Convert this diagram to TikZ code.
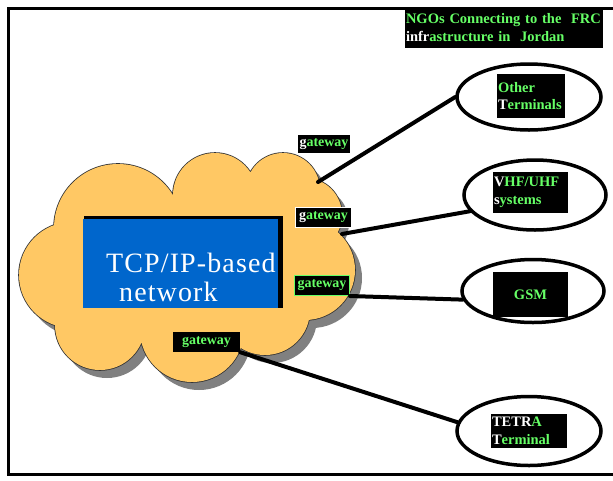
\documentclass[tikz,border=0pt]{standalone}
\usepackage{fontspec}
\setmainfont{Liberation Serif}
\usetikzlibrary{shapes.geometric}
\definecolor{gr}{RGB}{102,255,102}
\definecolor{cloudfill}{RGB}{255,200,100}
\definecolor{netblue}{RGB}{0,102,204}
\newcommand{\mypuffs}{(72,275) circle[radius=53pt] (118,228) circle[radius=64pt]
  (215,195) circle[radius=42pt] (283,190) circle[radius=37pt] (305,215) circle[radius=37pt]
  (305,270) circle[radius=50pt] (265,310) circle[radius=45pt] (192,330) circle[radius=52pt]
  (100,325) circle[radius=45pt]}
\newcommand{\myfiller}{(195,268) ellipse[x radius=100pt, y radius=75pt]}
\begin{document}
\begin{tikzpicture}[x=1pt,y=-1pt,
  gw/.style={fill=black, inner sep=0pt, font=\bfseries\fontsize{14}{15}\selectfont, text=gr},
  lbl/.style={fill=black, inner sep=1pt, font=\bfseries\fontsize{14.5}{17.5}\selectfont, text=gr, align=left},
  term/.style={ellipse, draw=black, line width=3.5pt, inner sep=0pt},
  link/.style={line width=4pt, line cap=round}]
\clip (0,0) rectangle (613,480);
\fill[white] (0,0) rectangle (613,480);
\draw[line width=3pt] (8,8) rectangle (640,474);
% cloud with shadow
\begin{scope}[shift={(7,8)}]
  \fill[gray] \mypuffs;
  \fill[gray] \myfiller;
\end{scope}
\draw[black!80, line width=1.6pt] \mypuffs;
\fill[cloudfill] \mypuffs;
\fill[cloudfill] \myfiller;
% blue network box
\fill[black] (84,216) rectangle (283,308);
\node[fill=netblue, minimum width=195pt, minimum height=89pt, inner sep=0pt] (net) at (180.5,263.5) {};
\node[anchor=base west, text=white, font=\fontsize{28}{30}\selectfont\addfontfeatures{LetterSpace=4}, inner sep=0pt] (t1) at (106,272) {TCP/IP-based};
\node[anchor=base west, text=white, font=\fontsize{28}{30}\selectfont\addfontfeatures{LetterSpace=4}, inner sep=0pt] (t2) at (119,301) {network};
% title
\node[lbl, minimum width=198pt, minimum height=40pt, text width=196pt, font=\bfseries\fontsize{14.5}{18}\selectfont] (title) at (504,27.5)
  {NGOs Connecting to the\ \ FRC\\{\color{white}infr}astructure in\ \ Jordan};
% gateways
\node[gw, minimum width=52pt, minimum height=18pt] (g1) at (324,144) {{\color{white}g}ateway};
\node[gw, draw=white, line width=1pt, minimum width=56pt, minimum height=20pt] (g2) at (323.5,217.5) {{\color{white}g}ateway};
\node[gw, draw=gr, line width=1pt, minimum width=55pt, minimum height=20pt] (g3) at (322,285.5) {gateway};
\node[gw, minimum width=67pt, minimum height=20pt] (g4) at (206.5,342) {gateway};
% terminals
\node[term, minimum width=144pt, minimum height=66pt] (e1) at (529,97) {};
\node[term, minimum width=142pt, minimum height=70pt] (e2) at (535,195) {};
\node[term, minimum width=142pt, minimum height=63pt] (e3) at (533,291) {};
\node[term, minimum width=144pt, minimum height=69pt] (e4) at (529,431) {};
\node[lbl, minimum width=68pt, minimum height=44pt, text width=66pt] (l1) at (531,96) {Other\\{\color{white}T}erminals};
\node[lbl, minimum width=75pt, minimum height=41pt, text width=73pt] (l2) at (530.5,192.5) {{\color{white}V}HF/UHF\\{\color{white}s}ystems};
\node[lbl, minimum width=75pt, minimum height=45pt, align=center] (l3) at (530.5,294.5) {GSM};
\node[lbl, minimum width=76pt, minimum height=34pt, text width=74pt] (l4) at (529,431) {{\color{white}TETR}A\\{\color{white}T}erminal};
% connectors
\coordinate (p1) at (318,182);
\coordinate (p2) at (342,234);
\draw[link] (p1) -- (e1.180);
\draw[link] (p2) -- (e2.194);
\draw[link] (g3.south east) -- (e3.187);
\draw[link] (g4.south east) -- (e4.173);
\end{tikzpicture}
\end{document}
